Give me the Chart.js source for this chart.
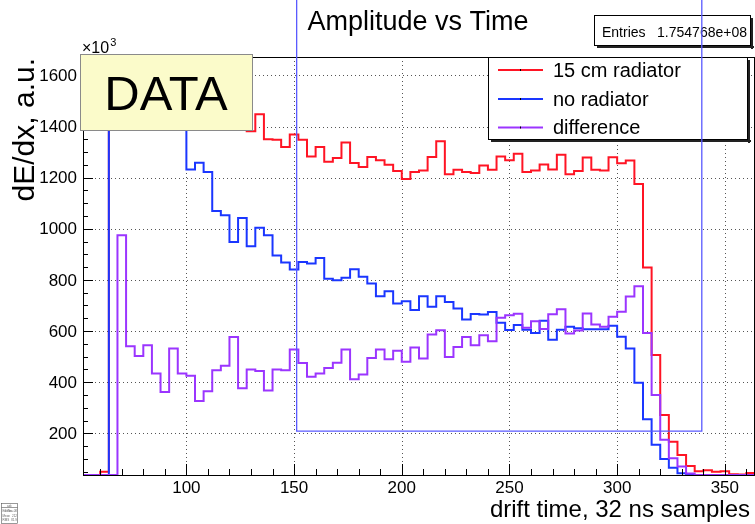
<!DOCTYPE html>
<html>
<head>
<meta charset="utf-8">
<title>Amplitude vs Time</title>
<script src="https://cdn.jsdelivr.net/npm/chart.js@4/dist/chart.umd.min.js"></script>
<style>
  html, body { margin: 0; padding: 0; background: #ffffff; }
  #c { display: block; }
</style>
</head>
<body>
<canvas id="c" width="755" height="524"></canvas>
<script>
// Histogram bins: left edges in drift-time samples (32 ns each), bin width 4
const BIN_WIDTH = 4;
const binEdges = [52, 56, 60, 64, 68, 72, 76, 80, 84, 88, 92, 96,
  100, 104, 108, 112, 116, 120, 124, 128, 132, 136, 140, 144, 148, 152, 156, 160,
  164, 168, 172, 176, 180, 184, 188, 192, 196, 200, 204, 208, 212, 216, 220, 224,
  228, 232, 236, 240, 244, 248, 252, 256, 260, 264, 268, 272, 276, 280, 284, 288,
  292, 296, 300, 304, 308, 312, 316, 320, 324, 328, 332, 336, 340, 344, 348, 352,
  356, 360];

// dE/dx per bin, a.u. x10^3
const radiator15cm = [0, 0, 50, 2150, 3300, 2900, 2650, 2400, 2200, 2050, 2300, 2250,
  1657, 1584, 1587, 1517, 1517, 1525, 1418, 1382,
  1448, 1350, 1348, 1320, 1369, 1348, 1283, 1320, 1262, 1277, 1338, 1257, 1242, 1281, 1268, 1251, 1226, 1195, 1222, 1228,
  1281, 1342, 1213, 1231, 1222, 1218, 1248, 1231, 1283, 1268, 1294, 1222, 1228, 1252, 1232, 1290, 1213, 1226, 1279, 1231,
  1228, 1280, 1256, 1267, 1175, 849, 506, 272, 167, 115, 72, 52, 56, 50, 52, 40, 39, 45];

const noRadiator = [0, 0, 0, 2150, 2325, 2359, 2148, 1855, 1766, 1688, 1768, 1816,
  1232, 1258, 1222, 1070, 1053, 948, 1042, 932,
  1004, 975, 896, 868, 841, 870, 864, 886, 805, 799, 809, 842, 812, 786, 736, 756, 708, 717, 682, 736,
  695, 736, 714, 688, 645, 667, 665, 675, 633, 604, 624, 605, 592, 640, 566, 605, 617, 611, 607, 607,
  607, 621, 578, 532, 398, 255, 155, 100, 65, 44, 28, 18, 24, 20, 18, 15, 14, 12];

const difference = [0, 0, 0, 0, 975, 541, 502, 545, 434, 362, 532, 434,
  425, 326, 365, 447, 464, 577, 376, 450,
  444, 368, 450, 447, 528, 475, 421, 434, 456, 476, 528, 412, 430, 495, 528, 490, 523, 480, 536, 493,
  587, 603, 499, 538, 577, 545, 584, 560, 652, 662, 668, 613, 638, 608, 666, 685, 590, 602, 669, 626,
  617, 656, 676, 735, 775, 592, 350, 175, 103, 70, 43, 32, 32, 30, 34, 25, 24, 33];

const seriesNames = ['15 cm radiator', 'no radiator', 'difference'];
const seriesColors = ['#ff1424', '#1a36ff', '#9b35ff'];

// Axis range and labelled ticks
const X_MIN = 52, X_MAX = 364;
const Y_MIN = 37, Y_MAX = 1672;
const xTicks = [100, 150, 200, 250, 300, 350];
const yTicks = [200, 400, 600, 800, 1000, 1200, 1400, 1600];
const X_MINOR_STEP = 10;
const Y_MINOR_STEP = 50;

const titleText = 'Amplitude vs Time';
const xTitle = 'drift time, 32 ns samples';
const yTitle = 'dE/dx, a.u.';
const entriesLabel = 'Entries';
const entriesValue = '1.754768e+08';
const padLabel = 'DATA';

// Selection window (drift time range and amplitude floor), open at the top
const windowX = [151.2, 339.3];
const windowY = 209;

const FONT = '"Liberation Sans", Arial, Helvetica, sans-serif';

// Out-of-range bins are drawn on the frame edge, the way ROOT paints them
function histPoints(values) {
  const clamp = v => Math.min(Math.max(v, Y_MIN), Y_MAX);
  const pts = binEdges.map((e, i) => ({ x: e, y: clamp(values[i]) }));
  const last = binEdges.length - 1;
  pts.push({ x: binEdges[last] + BIN_WIDTH, y: clamp(values[last]) });
  return pts;
}

function seg(ctx, x0, y0, x1, y1) {
  ctx.beginPath();
  ctx.moveTo(x0, y0);
  ctx.lineTo(x1, y1);
  ctx.stroke();
}

function shadowBox(ctx, x0, y0, x1, y1, fill, border, shadow) {
  if (shadow) {
    ctx.fillStyle = '#222';
    ctx.fillRect(x0 + 3, y1, x1 - x0, 2);
    ctx.fillRect(x1, y0 + 3, 2, y1 - y0);
  }
  ctx.fillStyle = fill;
  ctx.fillRect(x0, y0, x1 - x0, y1 - y0);
  ctx.strokeStyle = border;
  ctx.lineWidth = 1;
  ctx.strokeRect(x0 + 0.5, y0 + 0.5, x1 - x0 - 1, y1 - y0 - 1);
}

const rootStyle = {
  id: 'rootStyle',
  beforeDatasetsDraw(chart) {
    const { ctx, chartArea: a, scales: { x, y } } = chart;
    ctx.save();
    ctx.strokeStyle = '#555';
    ctx.lineWidth = 1;
    ctx.setLineDash([1, 3]);
    xTicks.forEach(v => {
      const px = Math.round(x.getPixelForValue(v)) + 0.5;
      seg(ctx, px, a.top, px, a.bottom);
    });
    yTicks.forEach(v => {
      const py = Math.round(y.getPixelForValue(v)) + 0.5;
      seg(ctx, a.left, py, a.right, py);
    });
    ctx.restore();
  },
  afterDatasetsDraw(chart) {
    const { ctx, chartArea: a, scales: { x, y } } = chart;
    ctx.save();

    // frame
    ctx.strokeStyle = '#000';
    ctx.lineWidth = 1;
    ctx.strokeRect(a.left + 0.5, a.top + 0.5, a.right - a.left - 1, a.bottom - a.top);

    // x ticks (major + minor), pointing inward
    for (let v = 60; v <= 360; v += X_MINOR_STEP) {
      const px = Math.round(x.getPixelForValue(v)) + 0.5;
      const len = xTicks.includes(v) ? 11 : 6;
      seg(ctx, px, a.bottom, px, a.bottom - len);
    }
    // y ticks
    for (let v = 50; v <= 1650; v += Y_MINOR_STEP) {
      const py = Math.round(y.getPixelForValue(v)) + 0.5;
      const len = yTicks.includes(v) ? 10 : 5;
      seg(ctx, a.left, py, a.left + len, py);
    }

    // tick labels
    ctx.fillStyle = '#000';
    ctx.font = '17px ' + FONT;
    ctx.textAlign = 'center';
    ctx.textBaseline = 'top';
    xTicks.forEach(v => ctx.fillText(String(v), x.getPixelForValue(v), a.bottom + 5));
    ctx.textAlign = 'right';
    ctx.textBaseline = 'middle';
    yTicks.forEach(v => ctx.fillText(String(v), a.left - 6, y.getPixelForValue(v) + 1));

    // exponent marker above the y axis
    ctx.textAlign = 'left';
    ctx.textBaseline = 'alphabetic';
    ctx.font = '16px ' + FONT;
    ctx.fillText('\u00d710', a.left - 1, a.top - 4);
    const w10 = ctx.measureText('\u00d710').width;
    ctx.font = '11px ' + FONT;
    ctx.fillText('3', a.left - 1 + w10 + 1, a.top - 11);

    // titles
    ctx.font = '27px ' + FONT;
    ctx.textAlign = 'center';
    ctx.fillText(titleText, 418, 30);

    ctx.font = '24px ' + FONT;
    ctx.textAlign = 'right';
    ctx.fillText(xTitle, 750, 517);

    ctx.save();
    ctx.translate(34, a.top + 1);
    ctx.rotate(-Math.PI / 2);
    ctx.font = '30px ' + FONT;
    ctx.textAlign = 'right';
    ctx.fillText(yTitle, 0, 0);
    ctx.restore();

    // statistics box
    shadowBox(ctx, 594, 15, 751, 46, '#fff', '#000', true);
    ctx.fillStyle = '#000';
    ctx.font = '14px ' + FONT;
    ctx.textAlign = 'left';
    ctx.fillText(entriesLabel, 602, 37);
    ctx.textAlign = 'right';
    ctx.fillText(entriesValue, 747, 37);

    // legend
    shadowBox(ctx, 488, 57, 748, 140, '#fff', '#000', true);
    const rows = [70, 99, 127.5];
    ctx.font = '20px ' + FONT;
    ctx.textAlign = 'left';
    ctx.textBaseline = 'middle';
    rows.forEach((ry, i) => {
      ctx.strokeStyle = seriesColors[i];
      ctx.lineWidth = 2;
      seg(ctx, 498, ry, 543, ry);
      ctx.fillStyle = '#000';
      ctx.fillRect(520, ry - 1, 1, 2);
      ctx.fillText(seriesNames[i], 553, ry + 1);
    });

    // DATA label pad
    shadowBox(ctx, 80, 54, 253, 131, '#fbfbca', '#8a8a8a', false);
    ctx.fillStyle = '#000';
    ctx.font = '49px ' + FONT;
    ctx.textAlign = 'center';
    ctx.textBaseline = 'alphabetic';
    ctx.fillText(padLabel, 166, 110);

    // small statistics pad in the corner
    ctx.fillStyle = '#fff';
    ctx.fillRect(1, 503, 17, 20);
    ctx.strokeStyle = '#555';
    ctx.lineWidth = 0.6;
    ctx.strokeRect(1.5, 503.5, 16, 20);
    seg(ctx, 1.5, 507.5, 17.5, 507.5);
    ctx.fillStyle = '#666';
    ctx.font = '3px ' + FONT;
    ctx.textAlign = 'center';
    ctx.fillText('adc', 9.5, 506.5);
    ctx.textAlign = 'left';
    ctx.fillText('Entries', 2.5, 512);
    ctx.fillText('Mean', 2.5, 516.5);
    ctx.fillText('RMS', 2.5, 521);
    ctx.textAlign = 'right';
    ctx.fillText('1.75e+08', 17, 512);
    ctx.fillText('212', 17, 516.5);
    ctx.fillText('81.9', 17, 521);

    // selection window
    ctx.strokeStyle = '#5a5aff';
    ctx.lineWidth = 1.3;
    const wx0 = x.getPixelForValue(windowX[0]);
    const wx1 = x.getPixelForValue(windowX[1]);
    const wy = y.getPixelForValue(windowY);
    ctx.beginPath();
    ctx.moveTo(wx0, 0);
    ctx.lineTo(wx0, wy);
    ctx.lineTo(wx1, wy);
    ctx.lineTo(wx1, 0);
    ctx.stroke();

    ctx.restore();
  }
};

const series = [radiator15cm, noRadiator, difference];

new Chart(document.getElementById('c'), {
  type: 'line',
  data: {
    datasets: series.map((vals, i) => ({
      label: seriesNames[i],
      data: histPoints(vals),
      borderColor: seriesColors[i],
      borderWidth: 2,
      stepped: true,
      fill: false,
      pointRadius: 0,
      tension: 0,
      order: 3 - i
    }))
  },
  options: {
    responsive: false,
    animation: false,
    devicePixelRatio: 1,
    layout: { padding: { left: 83, top: 57, right: 0, bottom: 49 } },
    plugins: {
      legend: { display: false },
      title: { display: false },
      tooltip: { enabled: false }
    },
    scales: {
      x: { type: 'linear', min: X_MIN, max: X_MAX, display: false },
      y: { type: 'linear', min: Y_MIN, max: Y_MAX, display: false }
    }
  },
  plugins: [rootStyle]
});
</script>
</body>
</html>
